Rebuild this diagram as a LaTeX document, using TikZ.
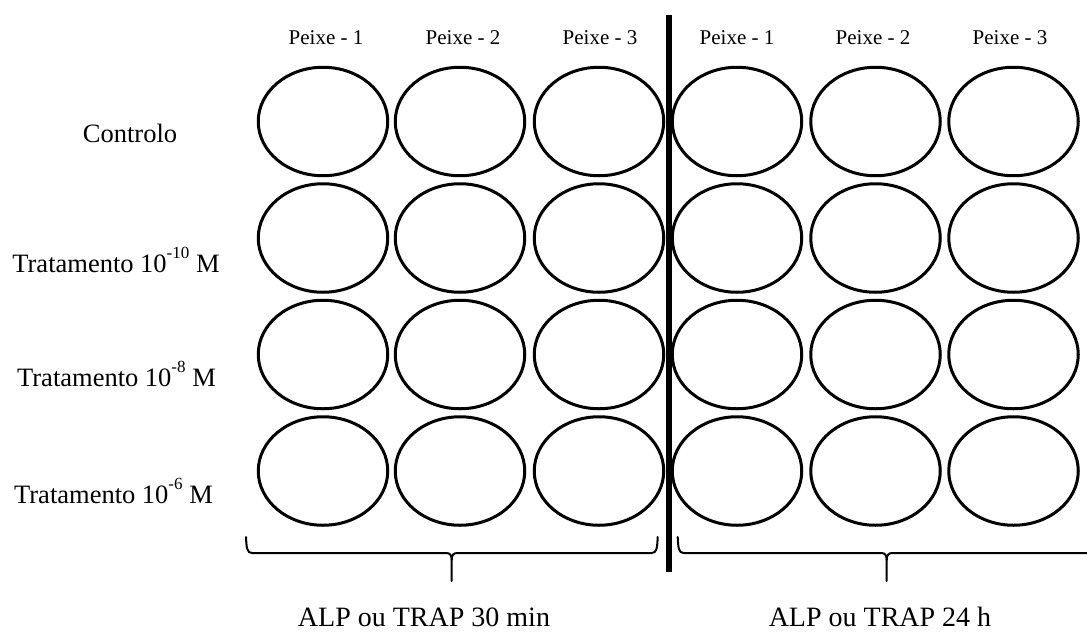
\documentclass[tikz,border=0pt]{standalone}
\usepackage{fontspec}
\setmainfont{Liberation Serif}
\usetikzlibrary{shapes.geometric}
\tikzset{
  well/.style={draw, ellipse, line width=3pt, minimum width=129.5pt, minimum height=108.5pt, inner sep=0pt},
  peixe/.style={anchor=base, inner sep=0pt, font=\fontsize{21}{21}\selectfont},
  rowlab/.style={anchor=base, inner sep=0pt, font=\fontsize{26.5}{26.5}\selectfont},
  botlab/.style={anchor=base, inner sep=0pt, font=\fontsize{28}{28}\selectfont},
  bracestyle/.style={line width=2pt, line cap=round},
  divider/.style={line width=6pt}
}
\newcommand{\supx}[1]{\raisebox{14pt}{\fontsize{17}{17}\selectfont #1}}
\begin{document}
\begin{tikzpicture}[x=1pt,y=-1pt]
\useasboundingbox (0,0) rectangle (1087,632);
\clip (0,0) rectangle (1087,632);
% wells
\foreach \r/\yy in {1/121.5,2/238,3/354.5,4/471}{
  \foreach \c/\xx in {1/323,2/460,3/599,4/737,5/875.5,6/1013.5}{
    \node[well] (w\r\c) at (\xx,\yy) {};
  }
}
% column labels
\node[peixe] (p1) at (326,44) {Peixe - 1};
\node[peixe] (p2) at (463,44) {Peixe - 2};
\node[peixe] (p3) at (600,44) {Peixe - 3};
\node[peixe] (p4) at (737,44) {Peixe - 1};
\node[peixe] (p5) at (873,44) {Peixe - 2};
\node[peixe] (p6) at (1010,44) {Peixe - 3};
% row labels
\node[rowlab] (l1) at (130,142.7) {Controlo};
\node[rowlab] (l2) at (116,272.7) {Tratamento 10\supx{-10} M};
\node[rowlab] (l3) at (116.5,386) {Tratamento 10\supx{-8} M};
\node[rowlab] (l4) at (113.5,503.3) {Tratamento 10\supx{-6} M};
% divider
\coordinate (dtop) at (669,15);
\coordinate (dbot) at (669,572);
\draw[divider] (dtop) -- (dbot);
% left brace
\coordinate (lbl) at (246,537);
\coordinate (lbr) at (657.7,537);
\coordinate (lbt) at (451.7,581);
\draw[bracestyle] (lbl) .. controls (246.5,548) and (247,553) .. (252,553) -- (446,553)
  .. controls (450,553) and (451.7,555) .. (451.7,560) -- (lbt);
\draw[bracestyle] (lbr) .. controls (657.2,548) and (656.7,553) .. (651.7,553) -- (457.4,553)
  .. controls (453.4,553) and (451.7,555) .. (451.7,560);
% right brace
\coordinate (rbl) at (677.7,537);
\coordinate (rbr) at (1095.7,537);
\coordinate (rbt) at (886.7,581);
\draw[bracestyle] (rbl) .. controls (678.2,548) and (678.7,553) .. (683.7,553) -- (881,553)
  .. controls (885,553) and (886.7,555) .. (886.7,560) -- (rbt);
\draw[bracestyle] (rbr) .. controls (1095.2,548) and (1094.7,553) .. (1089.7,553) -- (892.4,553)
  .. controls (888.4,553) and (886.7,555) .. (886.7,560);
% bottom labels
\node[botlab] (b1) at (424,626) {ALP ou TRAP 30 min};
\node[botlab] (b2) at (880,626) {ALP ou TRAP 24 h};
\end{tikzpicture}
\end{document}
